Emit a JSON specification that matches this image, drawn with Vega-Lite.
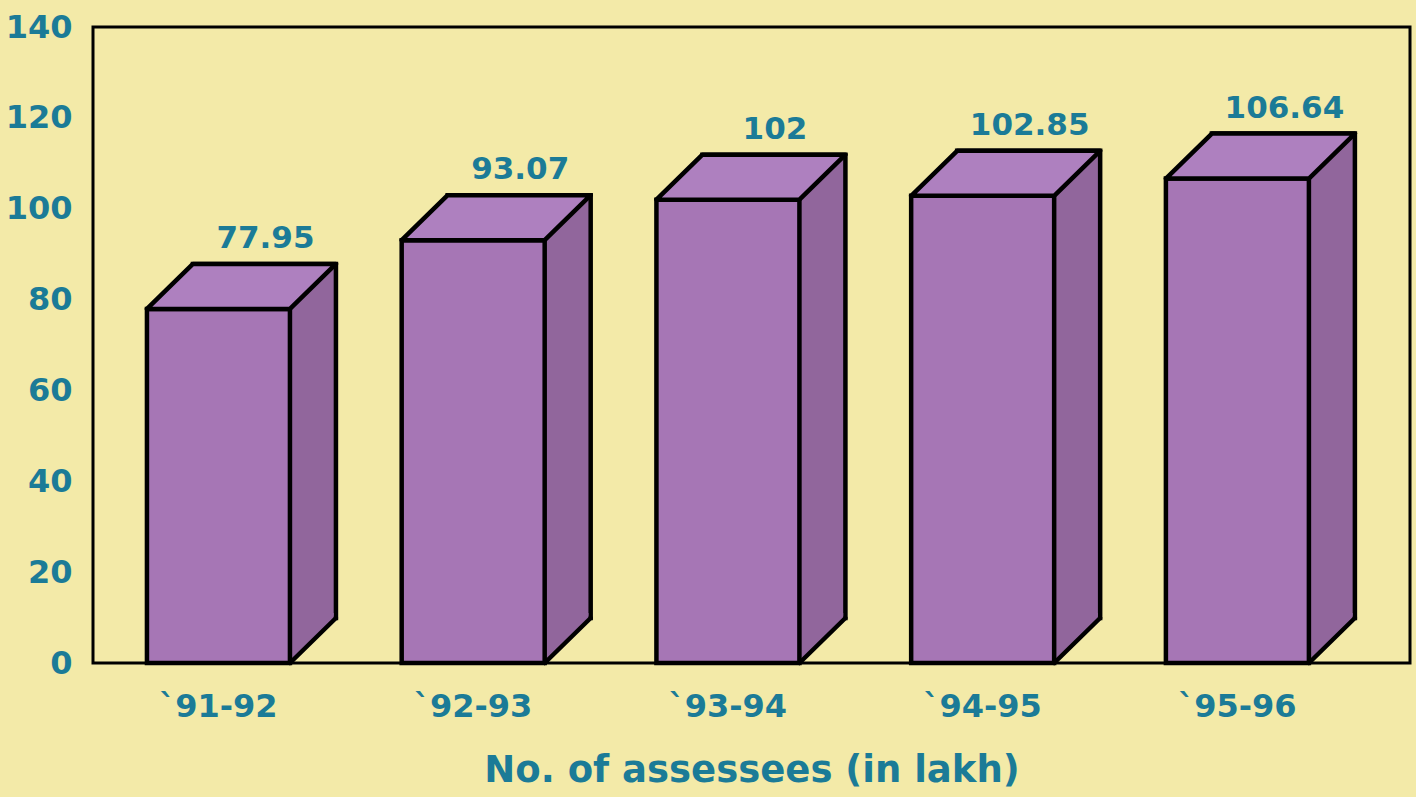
{
  "$schema": "https://vega.github.io/schema/vega-lite/v6.json",
  "width": 1317,
  "height": 636,
  "autosize": {"type": "none"},
  "padding": {"left": 93, "top": 27, "right": 6, "bottom": 134},
  "background": "#F3EAA8",
  "data": {
    "values": [
      {"year": "`91-92", "value": 77.95, "label": "77.95"},
      {"year": "`92-93", "value": 93.07, "label": "93.07"},
      {"year": "`93-94", "value": 102, "label": "102"},
      {"year": "`94-95", "value": 102.85, "label": "102.85"},
      {"year": "`95-96", "value": 106.64, "label": "106.64"}
    ]
  },
  "encoding": {
    "x": {
      "field": "year",
      "type": "nominal",
      "sort": null,
      "scale": {"paddingInner": 0.439, "paddingOuter": 0.3045, "align": 0.348},
      "axis": {
        "title": "No. of assessees (in lakh)",
        "labelAngle": 0,
        "ticks": false,
        "tickSize": 0,
        "domain": false,
        "labelPadding": 28,
        "titlePadding": 30
      }
    }
  },
  "layer": [
    {
      "mark": {"type": "bar", "width": 143, "xOffset": 46, "yOffset": -45, "fill": "#91669C", "stroke": "black", "strokeWidth": 4.5},
      "encoding": {
        "y": {
          "field": "value",
          "type": "quantitative",
          "scale": {"domain": [0, 140], "nice": false},
          "axis": {
            "title": null,
            "values": [0, 20, 40, 60, 80, 100, 120, 140],
            "ticks": false,
            "tickSize": 0,
            "domain": false,
            "grid": false,
            "labelPadding": 21
          }
        }
      }
    },
    {
      "mark": {"type": "point", "shape": "M71.5,0 L115.3,-42.9 L115.3,-50 L71.5,-50 Z", "size": 4, "filled": true, "fill": "#91669C", "strokeWidth": 0, "opacity": 1},
      "encoding": {"y": {"datum": 0, "type": "quantitative"}}
    },
    {
      "mark": {"type": "point", "shape": "M71.5,0 L117.5,-45", "size": 4, "filled": false, "fill": null, "stroke": "black", "strokeWidth": 4.5, "strokeCap": "round", "opacity": 1},
      "encoding": {"y": {"datum": 0, "type": "quantitative"}}
    },
    {
      "mark": {"type": "bar", "width": 143, "fill": "#A676B5", "stroke": "black", "strokeWidth": 4.5},
      "encoding": {"y": {"field": "value", "type": "quantitative"}}
    },
    {
      "mark": {"type": "point", "shape": "M-71.5,0 L71.5,0 L117.5,-45 L-25.5,-45 Z", "size": 4, "filled": true, "fill": "#AE80BF", "stroke": "black", "strokeWidth": 4.5, "strokeJoin": "round", "opacity": 1},
      "encoding": {"y": {"field": "value", "type": "quantitative"}}
    },
    {
      "mark": {"type": "text", "dx": 47, "dy": -61, "baseline": "alphabetic", "align": "center", "font": "DejaVu Sans", "fontWeight": "bold", "fontSize": 31, "fill": "#1B7B97"},
      "encoding": {
        "y": {"field": "value", "type": "quantitative"},
        "text": {"field": "label"}
      }
    }
  ],
  "config": {
    "view": {"stroke": "black", "strokeWidth": 3, "fill": "#F3EAA8"},
    "axis": {
      "labelFont": "DejaVu Sans",
      "labelFontWeight": "bold",
      "labelFontSize": 32,
      "labelColor": "#1B7B97",
      "titleFont": "DejaVu Sans",
      "titleFontWeight": "bold",
      "titleFontSize": 37,
      "titleColor": "#1B7B97"
    }
  }
}
